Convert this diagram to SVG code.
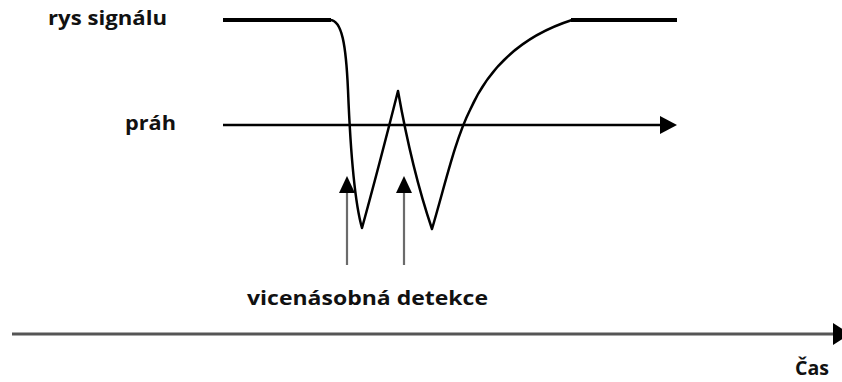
<svg xmlns="http://www.w3.org/2000/svg" width="842" height="382" viewBox="0 0 842 382">
<style>
.lbl{font-family:"Open Sans","DejaVu Sans","Liberation Sans",sans-serif;font-weight:bold;font-size:19px;fill:#111;}
.sig{fill:none;stroke:#000;stroke-width:2.5;stroke-linejoin:round;}
.flat{stroke:#000;stroke-width:4;}
.thr{stroke:#000;stroke-width:2.5;}
.det{stroke:#6b6b6b;stroke-width:2.2;}
.axis{stroke:#555;stroke-width:3;}
.head{fill:#000;}
</style>
<rect width="842" height="382" fill="#fff"/>
<g id="labels">
<text id="lbl-signal" class="lbl" x="48" y="25" textLength="119" lengthAdjust="spacingAndGlyphs">rys signálu</text>
<text id="lbl-threshold" class="lbl" x="125" y="130" textLength="51" lengthAdjust="spacingAndGlyphs">práh</text>
<text id="lbl-detect" class="lbl" x="247" y="305" textLength="241" lengthAdjust="spacingAndGlyphs">vicenásobná detekce</text>
<text id="lbl-time" class="lbl" x="795" y="375" textLength="34" lengthAdjust="spacingAndGlyphs">Čas</text>
</g>
<g id="signal">
<line class="flat" x1="223" y1="20" x2="331" y2="20"/>
<line class="flat" x1="571" y1="20" x2="677" y2="20"/>
<path class="sig" d="M330,20 C342,20 346,45 348,90 C350,140 354,200 362,228 Q378,170 398,91 Q412,170 432,229 C445,185 455,140 470,110 C490,65 525,35 572,20"/>
</g>
<g id="connectors">
<g id="threshold">
<line class="thr" x1="223" y1="125" x2="662" y2="125"/>
<polygon class="head" points="660,116 677,125 660,134"/>
</g>
<g id="detect1">
<line class="det" x1="347" y1="265" x2="347" y2="190"/>
<polygon class="head" points="339,193 347,176 355,193"/>
</g>
<g id="detect2">
<line class="det" x1="404" y1="265" x2="404" y2="190"/>
<polygon class="head" points="396,193 404,176 412,193"/>
</g>
<g id="time-axis">
<line class="axis" x1="12" y1="334" x2="835" y2="334"/>
<polygon class="head" points="833,323 850,334 833,345"/>
</g>
</g>
</svg>
